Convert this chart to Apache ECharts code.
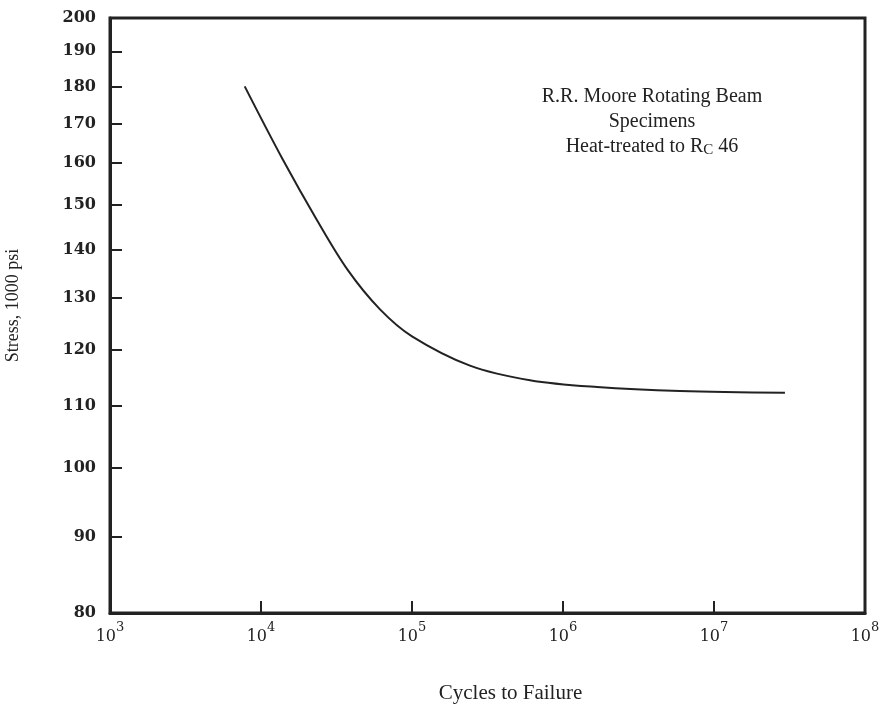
<!DOCTYPE html>
<html lang="en">
  <head>
    <meta charset="UTF-8" />
    <title>S-N curve</title>
    <style>
      html, body { margin: 0; padding: 0; background: #fff; }
    </style>
  </head>
  <body>
    <div id="main" style="width: 884px; height: 706px"></div>
    <script src="https://cdn.jsdelivr.net/npm/echarts@6/dist/echarts.min.js"></script>
    <script>
      // data
      const cycles = [7800, 14000, 23500, 37700, 61400, 100000, 242000, 604000, 1680000, 5960000, 29500000]
      const stress = [180, 160.7, 146.5, 135.6, 127.7, 122.5, 117.1, 114.5, 113.3, 112.6, 112.3]
      const stressTicks = [80, 90, 100, 110, 120, 130, 140, 150, 160, 170, 180, 190, 200]

      const ink = '#222'
      const myChart = echarts.init(document.getElementById('main'), null, { renderer: 'canvas' })

      const option = {
        backgroundColor: '#fff',
        animation: false,
        grid: {
          left: 110,
          right: 19,
          top: 18,
          bottom: 93,
          outerBoundsMode: 'none',
          containLabel: false,
          show: true,
          borderColor: ink,
          borderWidth: 3
        },
        xAxis: {
          type: 'log',
          logBase: 10,
          min: 1000,
          max: 100000000,
          name: 'Cycles to Failure',
          nameLocation: 'middle',
          nameGap: 70,
          nameTextStyle: {
            fontFamily: 'Liberation Serif',
            fontSize: 21,
            color: ink,
            padding: [0, 0, 0, 46]
          },
          axisLine: { lineStyle: { color: ink, width: 3 } },
          axisTick: { inside: true, length: 12, lineStyle: { color: ink, width: 2 } },
          splitLine: { show: false },
          axisLabel: {
            margin: 8,
            formatter: v => `{b|10}{s|${Math.round(Math.log10(v))}}`,
            rich: {
              b: { fontFamily: 'DejaVu Serif', fontSize: 16, color: ink, verticalAlign: 'bottom', lineHeight: 24 },
              s: { fontFamily: 'DejaVu Serif', fontSize: 13, color: ink, verticalAlign: 'top', padding: [0, 0, 8, 0], lineHeight: 24 }
            }
          }
        },
        yAxis: {
          type: 'log',
          logBase: 10,
          min: 80,
          max: 200,
          name: 'Stress, 1000 psi',
          nameLocation: 'middle',
          nameGap: 88,
          nameRotate: 90,
          nameTextStyle: {
            fontFamily: 'Liberation Serif',
            fontSize: 18,
            color: ink,
            padding: [0, 0, 0, 20]
          },
          axisLine: { lineStyle: { color: ink, width: 3 } },
          axisTick: {
            inside: true,
            length: 12,
            customValues: stressTicks,
            lineStyle: { color: ink, width: 2 }
          },
          splitLine: { show: false },
          axisLabel: {
            customValues: stressTicks,
            margin: 14,
            fontFamily: 'DejaVu Serif',
            fontWeight: 'bold',
            fontSize: 16,
            color: ink
          }
        },
        graphic: [
          {
            type: 'text',
            x: 652,
            y: 84,
            style: {
              text: 'R.R. Moore Rotating Beam\nSpecimens\nHeat-treated to {r|R}{c|C} 46',
              align: 'center',
              fontFamily: 'Liberation Serif',
              fontSize: 20,
              lineHeight: 25,
              fill: ink,
              rich: {
                r: { fontFamily: 'Liberation Serif', fontSize: 20, fill: ink },
                c: { fontFamily: 'Liberation Serif', fontSize: 15, fill: ink, padding: [8, 0, 0, 0] }
              }
            }
          }
        ],
        series: [
          {
            type: 'line',
            smooth: 0.35,
            showSymbol: false,
            data: cycles.map((c, i) => [c, stress[i]]),
            lineStyle: { color: ink, width: 2 }
          }
        ]
      }

      myChart.setOption(option)
    </script>
  </body>
</html>
